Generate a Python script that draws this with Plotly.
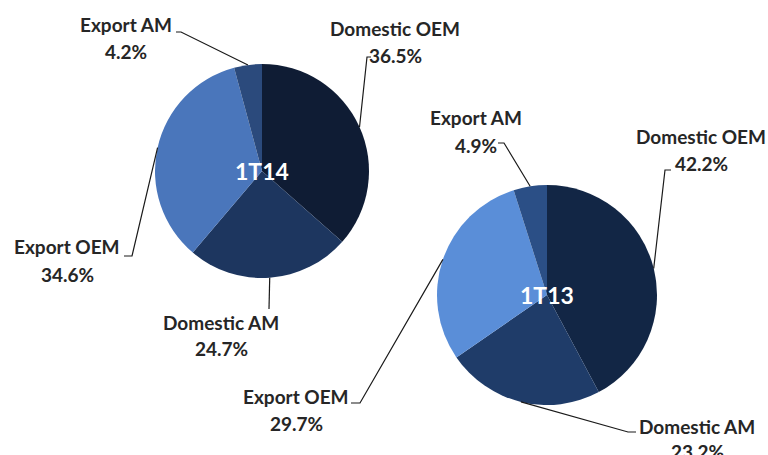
import math
import plotly.graph_objects as go

W, H = 768, 455

categories = ["Domestic OEM", "Domestic AM", "Export OEM", "Export AM"]
values_1t14 = [36.5, 24.7, 34.6, 4.2]
values_1t13 = [42.2, 23.2, 29.7, 4.9]
pie_titles = ["1T14", "1T13"]

colors_1t14 = ["#0f1c34", "#1d365f", "#4a76bb", "#2b4a7c"]
colors_1t13 = ["#122645", "#1f3c69", "#5a8ed8", "#2b4f86"]

# layout: pie centres/radii in pixels
pies = [
    dict(cx=262, cy=171, r=107),
    dict(cx=547, cy=295, r=110),
]

# label layout (pixel centres for name line and value line), leader bend & end
label_layout = [
    {  # 1T14
        "Domestic OEM": dict(x=395, y1=28, y2=55, bend=(367, 57), end=(371, 57)),
        "Domestic AM": dict(x=221, y1=322, y2=348, bend=(269, 309), end=(269, 309)),
        "Export OEM": dict(x=67, y1=247, y2=274, bend=(132, 256), end=(124, 256)),
        "Export AM": dict(x=126, y1=24, y2=51, bend=(181, 32), end=(176, 32)),
    },
    {  # 1T13
        "Domestic OEM": dict(x=701, y1=136, y2=163, bend=(665, 170), end=(671, 170)),
        "Domestic AM": dict(x=697, y1=426, y2=451, bend=(628, 432), end=(636, 432)),
        "Export OEM": dict(x=296, y1=396, y2=423, bend=(360, 403), end=(351, 403)),
        "Export AM": dict(x=476, y1=118, y2=145, bend=(504, 143), end=(498, 143)),
    },
]


def px(x):
    return x / W


def py(y):
    return 1 - y / H


fig = go.Figure()
annotations = []
shapes = []

for i, (vals, cols) in enumerate([(values_1t14, colors_1t14), (values_1t13, colors_1t13)]):
    p = pies[i]
    fig.add_trace(go.Pie(
        labels=categories,
        values=vals,
        sort=False,
        direction="clockwise",
        rotation=0,
        marker=dict(colors=cols, line=dict(width=0)),
        textinfo="none",
        hoverinfo="label+percent",
        showlegend=False,
        domain=dict(x=[px(p["cx"] - p["r"]), px(p["cx"] + p["r"])],
                    y=[py(p["cy"] + p["r"]), py(p["cy"] - p["r"])]),
    ))
    annotations.append(dict(
        x=px(p["cx"]), y=py(p["cy"]), xref="paper", yref="paper",
        text="<b>%s</b>" % pie_titles[i], showarrow=False,
        font=dict(family="Lato", size=23, color="white"),
        xanchor="center", yanchor="middle",
    ))
    total = sum(vals)
    cum = 0
    for cat, v in zip(categories, vals):
        mid = (cum + v / 2) / total * 2 * math.pi
        cum += v
        ex = p["cx"] + p["r"] * math.sin(mid)
        ey = p["cy"] - p["r"] * math.cos(mid)
        L = label_layout[i][cat]
        bx, by = L["bend"]
        tx, ty = L["end"]
        shapes.append(dict(
            type="path", xref="paper", yref="paper",
            path="M %f %f L %f %f L %f %f" % (px(ex), py(ey), px(bx), py(by), px(tx), py(ty)),
            line=dict(color="#1a1a1a", width=1.2),
        ))
        annotations.append(dict(
            x=px(L["x"]), y=py(L["y1"]), xref="paper", yref="paper",
            text="<b>%s</b>" % cat, showarrow=False,
            font=dict(family="Lato", size=19, color="#262626"),
            xanchor="center", yanchor="middle",
        ))
        annotations.append(dict(
            x=px(L["x"]), y=py(L["y2"]), xref="paper", yref="paper",
            text="<b>%.1f%%</b>" % v, showarrow=False,
            font=dict(family="Lato", size=19, color="#262626"),
            xanchor="center", yanchor="middle",
        ))

fig.update_layout(
    width=W, height=H,
    margin=dict(l=0, r=0, t=0, b=0),
    paper_bgcolor="white", plot_bgcolor="white",
    annotations=annotations, shapes=shapes,
)

fig.write_html("out.html")
